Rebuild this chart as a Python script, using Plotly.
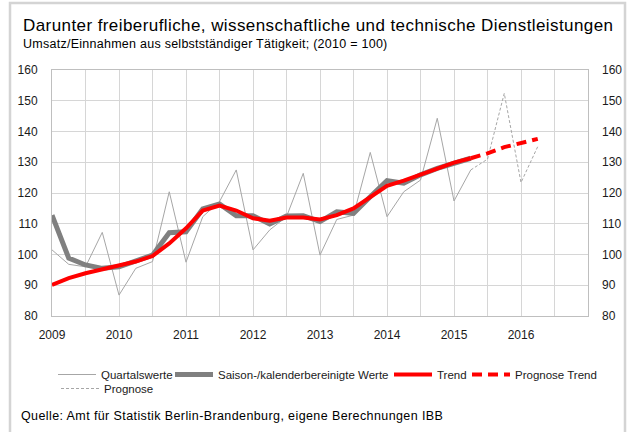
import plotly.graph_objects as go

# ---------------- data ----------------
quarters = [f"{y}Q{q}" for y in range(2009, 2017) for q in range(1, 5)]

quartal_q = quarters[0:26]          # 2009Q1 .. 2015Q2
quartalswerte = [101.5, 96.8, 96.0, 107.2, 86.8, 95.5, 97.7, 120.4,
                 97.5, 112.3, 117.2, 127.5, 101.5, 108.0, 112.3, 126.4,
                 99.8, 111.4, 112.8, 133.2, 112.3, 120.4, 124.2, 144.3,
                 117.4, 127.5]
saison = [112.8, 98.8, 96.6, 95.5, 96.0, 97.9, 99.8, 107.1,
          107.4, 114.8, 116.4, 112.6, 112.6, 109.9, 112.5, 112.6,
          110.7, 113.9, 113.4, 118.8, 124.0, 123.2, 125.9, 128.0,
          129.6, 131.3]
trend = [90.1, 92.3, 93.9, 95.2, 96.3, 97.7, 99.5, 103.6,
         108.5, 114.3, 115.9, 114.3, 111.8, 111.0, 112.0, 112.0,
         111.4, 112.8, 115.0, 118.5, 122.3, 124.0, 125.9, 128.0,
         129.9, 131.3]

prog_q = quarters[25:30]            # 2015Q2 .. 2016Q2
prognose = [127.5, 131.0, 152.4, 123.4, 135.1]
prognose_trend = [131.3, 132.9, 134.9, 136.2, 137.6]

year_ticks = list(range(2009, 2018))
y_ticks = list(range(80, 161, 10))


def qpos(label):
    y, q = label.split("Q")
    return int(y) + (int(q) - 1) / 4


xq = [qpos(s) for s in quartal_q]
xp = [qpos(s) for s in prog_q]

FONT = "Liberation Sans, Arial, sans-serif"
GRID = "#d6d6d6"

fig = go.Figure()
fig.add_trace(go.Scatter(x=xq, y=quartalswerte, mode="lines", name="Quartalswerte",
                         line=dict(color="#a6a6a6", width=1), legend="legend"))
fig.add_trace(go.Scatter(x=xp, y=prognose, mode="lines", name="Prognose",
                         line=dict(color="#a6a6a6", width=1, dash="3px,2px"), legend="legend5"))
fig.add_trace(go.Scatter(x=xq, y=saison, mode="lines", name="Saison-/kalenderbereinigte Werte",
                         line=dict(color="#808080", width=5), legend="legend2"))
fig.add_trace(go.Scatter(x=xq, y=trend, mode="lines", name="Trend",
                         line=dict(color="#ff0000", width=4), legend="legend3"))
fig.add_trace(go.Scatter(x=xp, y=prognose_trend, mode="lines", name="Prognose Trend",
                         line=dict(color="#ff0000", width=4, dash="10px,6px"), legend="legend4"))
# invisible helper so the right-hand axis is drawn
fig.add_trace(go.Scatter(x=xq, y=trend, mode="lines", yaxis="y2", showlegend=False,
                         hoverinfo="skip", line=dict(color="rgba(0,0,0,0)", width=0)))

L, R, T, B = 52, 41, 70, 116
W, H = 629, 432
pw, ph = W - L - R, H - T - B


def px(xpix):
    return (xpix - L) / pw


def py(ypix):
    return (H - B - ypix) / ph


def spaced(text, ls):
    return f'<span style="letter-spacing:{ls}px">{text}</span>'


tickvals = [y + h for y in year_ticks for h in (0, 0.5)][:-1]
ticktext = [str(int(v)) if v == int(v) and v < 2017 else "" for v in tickvals]


def leg(xpix, ypix):
    return dict(orientation="h", xanchor="left", yanchor="top",
                x=px(xpix), y=py(ypix),
                font=dict(size=11.5, family=FONT, color="#1a1a1a"),
                bgcolor="rgba(0,0,0,0)", itemwidth=38, traceorder="normal")


fig.update_layout(
    width=W, height=H,
    margin=dict(l=L, r=R, t=T, b=B, autoexpand=False),
    paper_bgcolor="white", plot_bgcolor="white",
    font=dict(family=FONT, size=12, color="#1a1a1a"),
    xaxis=dict(range=[2009, 2017], tickvals=tickvals, ticktext=ticktext,
               showgrid=True, gridcolor=GRID, gridwidth=1,
               showline=True, linecolor="#bfbfbf", linewidth=1, mirror=True,
               ticks="", ticklabelstandoff=8, zeroline=False,
               tickfont=dict(size=12)),
    yaxis=dict(range=[80, 160], tickvals=y_ticks,
               showgrid=True, gridcolor=GRID, gridwidth=1,
               showline=True, linecolor="#bfbfbf", linewidth=1, mirror=True,
               ticks="", ticklabelstandoff=11, zeroline=False,
               tickfont=dict(size=12)),
    yaxis2=dict(range=[80, 160], tickvals=y_ticks, overlaying="y", side="right",
                showgrid=False, ticks="", ticklabelstandoff=13, zeroline=False,
                tickfont=dict(size=12)),
    showlegend=True,
    legend=leg(53, 360),
    legend2=leg(170, 360),
    legend3=leg(389, 360),
    legend4=leg(467, 360),
    legend5=leg(56, 374),
    annotations=[
        dict(text=spaced("Darunter freiberufliche, wissenschaftliche und technische Dienstleistungen", 0.42),
             x=px(21), y=py(26), xref="paper", yref="paper", xanchor="left", yanchor="middle",
             showarrow=False, font=dict(size=17, family=FONT, color="#000")),
        dict(text=spaced("Umsatz/Einnahmen aus selbstständiger Tätigkeit; (2010 = 100)", 0.26),
             x=px(21), y=py(44), xref="paper", yref="paper", xanchor="left", yanchor="middle",
             showarrow=False, font=dict(size=12.5, family=FONT, color="#000")),
        dict(text=spaced("Quelle: Amt für Statistik Berlin-Brandenburg, eigene Berechnungen IBB", 0.4),
             x=px(19), y=py(416), xref="paper", yref="paper", xanchor="left", yanchor="middle",
             showarrow=False, font=dict(size=12.5, family=FONT, color="#000")),
    ],
    shapes=[
        dict(type="rect", xref="paper", yref="paper",
             x0=px(10), x1=px(625), y0=py(440), y1=py(3),
             line=dict(color="#d4d4d4", width=2.5), layer="below"),
    ],
)

fig.write_html("out.html", config={"displayModeBar": False},
               post_script="document.body.style.margin='0';")
